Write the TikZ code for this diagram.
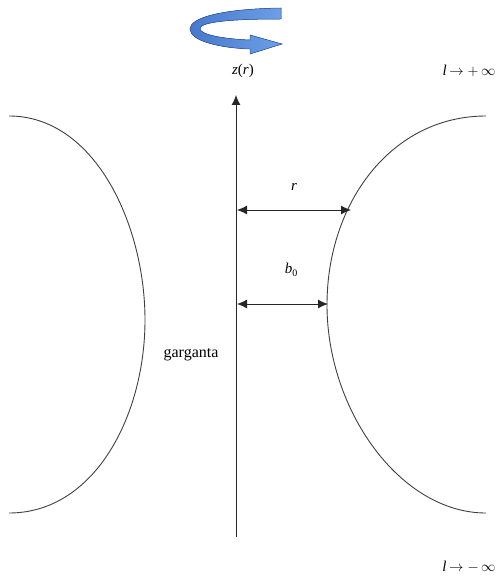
\documentclass[tikz,border=0pt]{standalone}
\usepackage{fontspec}
\setmainfont{Liberation Serif}
\usetikzlibrary{arrows.meta}
\begin{document}
\begin{tikzpicture}[x=1pt,y=-1pt,
  curve/.style={draw=black!75, line width=0.9pt},
  dim/.style={draw=black!85, line width=0.9pt, {Latex[length=10pt,width=9pt]}-{Latex[length=10pt,width=9pt]}},
  lbl/.style={inner sep=0pt, font=\fontsize{15}{17}\selectfont}]
\useasboundingbox (0,0) rectangle (499,583);
% rotation ribbon
\fill[left color={rgb,255:red,70;green,120;blue,205}, right color={rgb,255:red,110;green,160;blue,230}, draw={rgb,255:red,45;green,85;blue,160}, line width=0.5pt]
  (281,8) .. controls (220,9) and (190,18) .. (190,29)
  .. controls (190,41) and (220,48) .. (250,49) -- (250,54) -- (282,44) -- (250,35) -- (250,40)
  .. controls (225,39) and (201,35) .. (200,29)
  .. controls (199,22) and (230,19) .. (281,19) -- cycle;
% axis
\coordinate (bot) at (236,537);
\coordinate (top) at (236,95);
\draw[draw=black!85, line width=0.9pt, -{Latex[length=10pt,width=9pt]}] (bot) -- (top);
% throat curves
\draw[curve] (9,116) .. controls (95,116) and (145,225) .. (145,320)
  .. controls (145,415) and (95,513) .. (9,513);
\draw[curve] (486,116) .. controls (392,116) and (327,202) .. (327,305)
  .. controls (327,410) and (400,513) .. (486,513);
% dimension arrows
\coordinate (ra) at (237,210);
\coordinate (rb) at (351,210);
\coordinate (ba) at (237,304);
\coordinate (bb) at (328,304);
\draw[dim] (ra) -- (rb);
\draw[dim] (ba) -- (bb);
% labels
\node[lbl] (z) at (243,71) {\textit{z}(\textit{r})};
\node[lbl] (lp) at (469,71) {\textit{l}\,$\rightarrow+\,\infty$};
\node[lbl] (lm) at (469,567) {\textit{l}\,$\rightarrow-\,\infty$};
\node[lbl] (r) at (294,187) {\textit{r}};
\node[lbl] (b) at (291,270) {\textit{b}\raisebox{-0.35ex}{\fontsize{10}{12}\selectfont 0}};
\node[lbl, font=\fontsize{16}{18}\selectfont] (g) at (191,355) {garganta};
\end{tikzpicture}
\end{document}
